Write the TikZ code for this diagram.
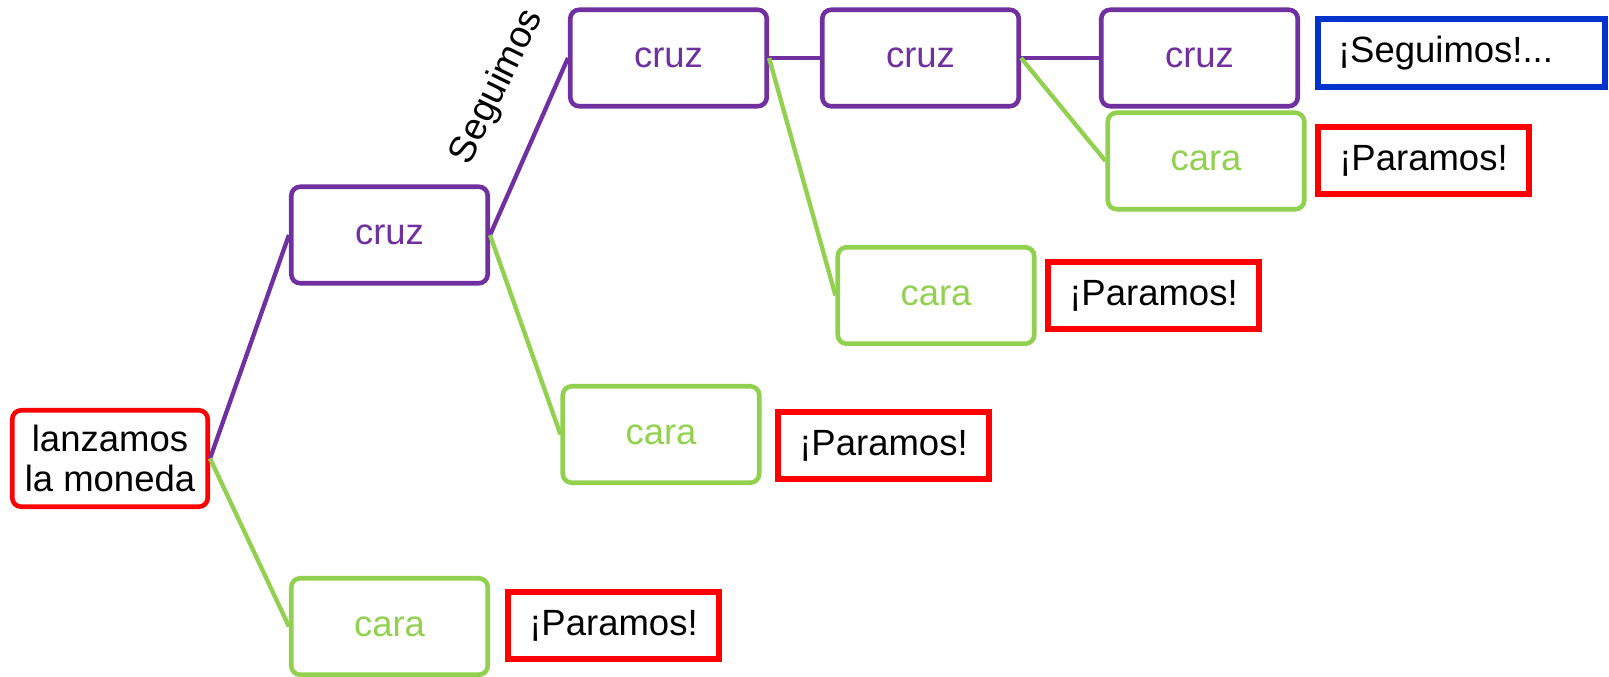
\documentclass[tikz,border=0pt]{standalone}
\usepackage{fontspec}
\setmainfont{Liberation Sans}
\definecolor{treepurple}{HTML}{7030A0}
\definecolor{treegreen}{HTML}{92D050}
\definecolor{stopred}{HTML}{FF0000}
\definecolor{goblue}{HTML}{0033CC}

\begin{document}
\begin{tikzpicture}[x=1pt,y=-1pt,
  every node/.style={font=\fontsize{36.5}{39.5}\selectfont, inner sep=0pt},
  coin/.style={draw, rounded corners=9pt, line width=4.6pt,
    minimum width=196.5pt, minimum height=96.5pt},
  cruzbox/.style={coin, draw=treepurple, text=treepurple},
  carabox/.style={coin, draw=treegreen, text=treegreen},
  startbox/.style={coin, draw=stopred, align=center, minimum width=195.5pt},
  outcome/.style={draw, line width=6pt, minimum width=211pt, minimum height=67pt},
  stopbox/.style={outcome, draw=stopred},
  gobox/.style={outcome, draw=goblue, minimum width=287pt, text width=247pt,
    align=left},
  purpleedge/.style={treepurple, line width=4.3pt},
  greenedge/.style={treegreen, line width=4.3pt}
]
\useasboundingbox (0,0) rectangle (1609,677);

% start of the game
\node[startbox] (start) at (110,458.5) {lanzamos\\la moneda};

% first toss
\node[cruzbox] (cruzA) at (389.5,235) {cruz};
\node[carabox] (caraA) at (389.5,626.5) {cara};
\node[stopbox] (stopA) at (613.5,625.5) {¡Paramos!};

% second toss
\node[cruzbox] (cruzB) at (668.5,58) {cruz};
\node[carabox] (caraB) at (661,434.5) {cara};
\node[stopbox] (stopB) at (883.5,445.5) {¡Paramos!};

% third toss
\node[cruzbox] (cruzC) at (920.5,58) {cruz};
\node[carabox] (caraC) at (936,295.5) {cara};
\node[stopbox] (stopC) at (1153.5,295.5) {¡Paramos!};

% fourth toss
\node[cruzbox] (cruzD) at (1199.5,58) {cruz};
\node[carabox] (caraD) at (1206,161) {cara};
\node[stopbox] (stopD) at (1423.5,160.5) {¡Paramos!};
\node[gobox] (goD) at (1461.5,53) {¡Seguimos!...};

% branches
\draw[purpleedge] (start.east) -- (cruzA.west);
\draw[greenedge]  (start.east) -- (caraA.west);
\draw[purpleedge] (cruzA.east) -- (cruzB.west);
\draw[greenedge]  (cruzA.east) -- (caraB.west);
\draw[purpleedge] (cruzB.east) -- (cruzC.west);
\draw[greenedge]  (cruzB.east) -- (caraC.west);
\draw[purpleedge] (cruzC.east) -- (cruzD.west);
\draw[greenedge]  (cruzC.east) -- (caraD.west);

% label along the first "cruz" branch
\node[rotate=64, font=\fontsize{37.5}{40}\selectfont] (seguimos) at (497.5,87) {Seguimos};
\end{tikzpicture}
\end{document}
